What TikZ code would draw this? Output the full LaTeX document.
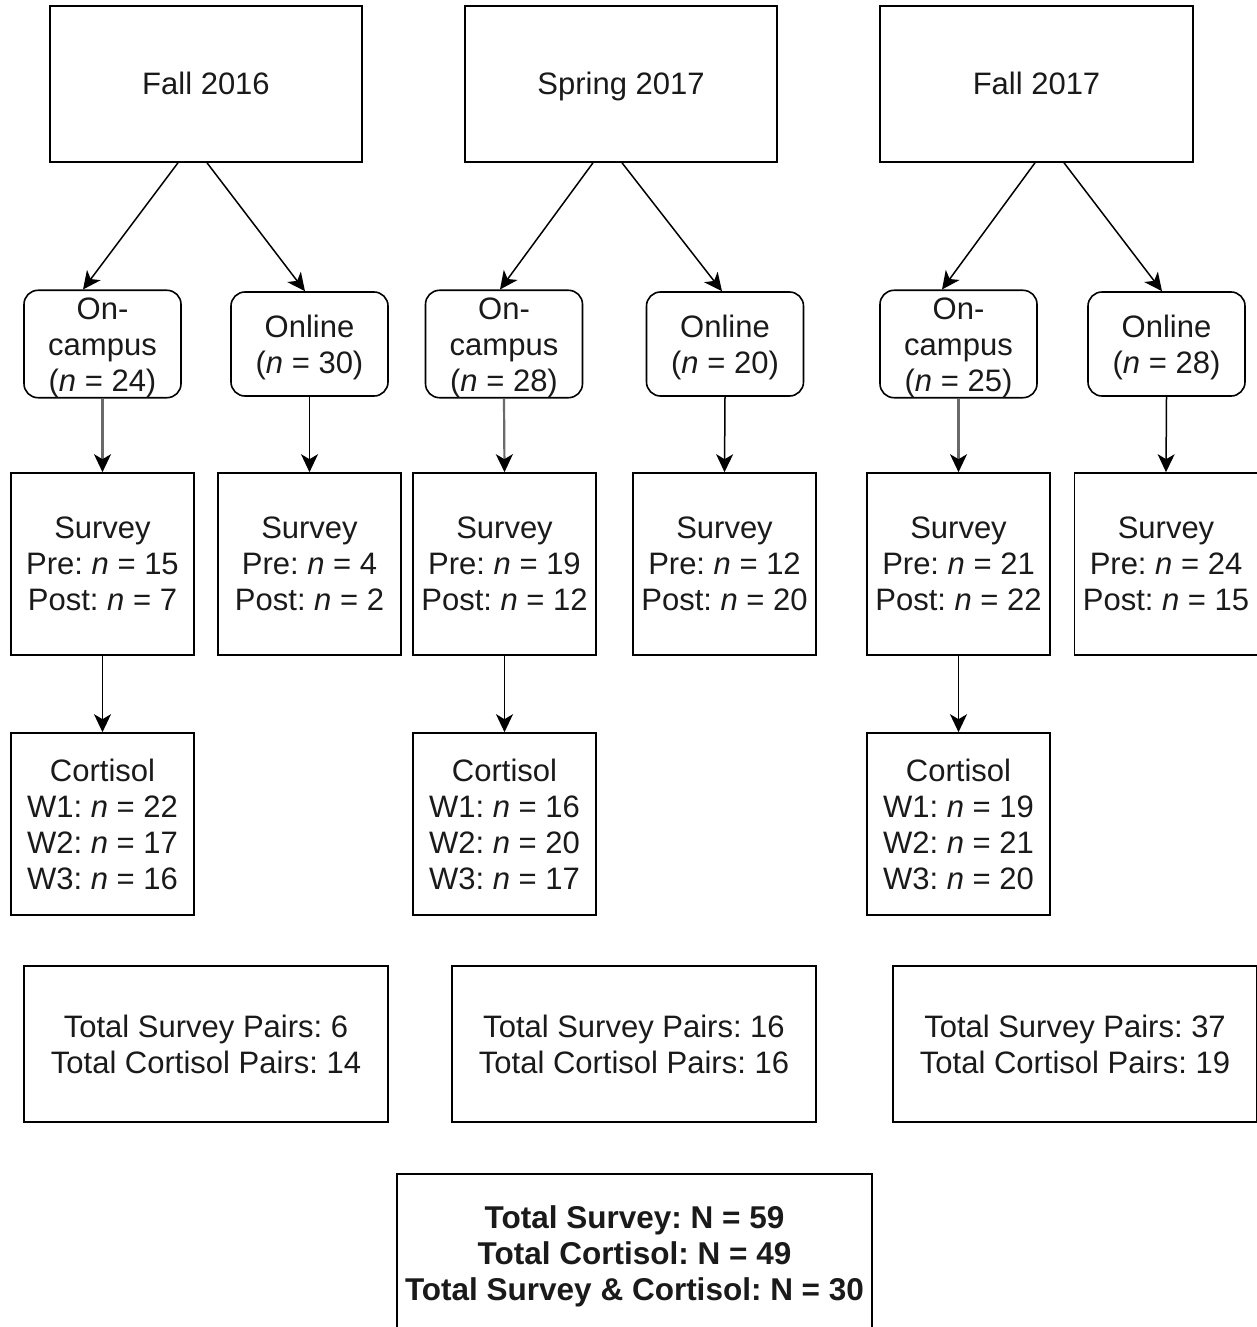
\documentclass[tikz,border=0pt]{standalone}
\usepackage{fontspec}
\setmainfont{Liberation Sans}
\frenchspacing
\usetikzlibrary{arrows.meta}
\newcommand\nval[1]{\textit{n} = #1}
\newcommand\topstrut[1]{\rule{0pt}{#1}}
\definecolor{txt}{HTML}{1A1A1A}
\definecolor{arrgray}{HTML}{6A6A6A}
\tikzset{
  base/.style={draw=black, line width=1.6pt, inner sep=0pt, align=center,
    text=txt, font=\fontsize{31}{36}\selectfont},
  topbox/.style={base, rectangle, minimum width=312pt, minimum height=156pt,
    text height=22pt, text depth=0pt},
  modebox/.style={base, rectangle, rounded corners=14pt, minimum width=157pt, minimum height=104pt},
  databox/.style={base, rectangle, minimum width=183pt, minimum height=182pt},
  totbox/.style={base, rectangle, minimum width=364pt, minimum height=156pt},
  conn/.style={line width=1.5pt, draw=black, -{Stealth[length=18pt,width=17pt,inset=5pt,color=black]}},
  gconn/.style={conn, draw=arrgray, line width=2.2pt}
}
\begin{document}
\begin{tikzpicture}[x=1pt,y=-1pt]
\useasboundingbox (0,0) rectangle (1257,1327);
\fill[white] (0,0) rectangle (1257,1327);

% top
\node[topbox] (fa16) at (206,84) {Fall 2016};
\node[topbox] (sp17) at (621,84) {Spring 2017};
\node[topbox, minimum width=313pt] (fa17) at (1036.5,84) {Fall 2017};

% modes
\node[modebox] (on1) at (102.5,344) {\topstrut{29pt}On-\\campus\\(\nval{24})};
\node[modebox] (ol1) at (309.5,344) {\topstrut{29pt}Online\\(\nval{30})};
\node[modebox] (on2) at (504,344) {\topstrut{29pt}On-\\campus\\(\nval{28})};
\node[modebox] (ol2) at (725,344) {\topstrut{29pt}Online\\(\nval{20})};
\node[modebox] (on3) at (958.5,344) {\topstrut{29pt}On-\\campus\\(\nval{25})};
\node[modebox] (ol3) at (1166.5,344) {\topstrut{29pt}Online\\(\nval{28})};

% survey
\node[databox] (sv1) at (102.5,564) {Survey\\Pre: \nval{15}\\Post: \nval{7}};
\node[databox] (svo1) at (309.5,564) {Survey\\Pre: \nval{4}\\Post: \nval{2}};
\node[databox] (sv2) at (504.5,564) {Survey\\Pre: \nval{19}\\Post: \nval{12}};
\node[databox] (svo2) at (724.5,564) {Survey\\Pre: \nval{12}\\Post: \nval{20}};
\node[databox] (sv3) at (958.5,564) {Survey\\Pre: \nval{21}\\Post: \nval{22}};
\node[databox] (svo3) at (1166,564) {Survey\\Pre: \nval{24}\\Post: \nval{15}};

% cortisol
\node[databox] (co1) at (102.5,824) {Cortisol\\W1: \nval{22}\\W2: \nval{17}\\W3: \nval{16}};
\node[databox] (co2) at (504.5,824) {Cortisol\\W1: \nval{16}\\W2: \nval{20}\\W3: \nval{17}};
\node[databox] (co3) at (958.5,824) {Cortisol\\W1: \nval{19}\\W2: \nval{21}\\W3: \nval{20}};

% totals
\node[totbox] (t1) at (206,1044) {Total Survey Pairs: 6\\Total Cortisol Pairs: 14};
\node[totbox] (t2) at (634,1044) {Total Survey Pairs: 16\\Total Cortisol Pairs: 16};
\node[totbox] (t3) at (1075,1044) {Total Survey Pairs: 37\\Total Cortisol Pairs: 19};

\node[base, rectangle, minimum width=475pt, minimum height=156pt,
  font=\fontsize{31.5}{36}\selectfont\bfseries] (all) at (634.5,1252)
  {\topstrut{31pt}Total Survey: N = 59\\Total Cortisol: N = 49\\Total Survey \& Cortisol: N = 30};

% connectors: top to modes
\draw[conn] ([xshift=-28pt]fa16.south) -- ([xshift=-19.5pt]on1.north);
\draw[conn] ([xshift=1pt]fa16.south) -- ([xshift=-4.5pt]ol1.north);
\draw[conn] ([xshift=-28pt]sp17.south) -- ([xshift=-4pt]on2.north);
\draw[conn] ([xshift=1pt]sp17.south) -- ([xshift=-3pt]ol2.north);
\draw[conn] ([xshift=-1.5pt]fa17.south) -- ([xshift=-16.5pt]on3.north);
\draw[conn] ([xshift=27.5pt]fa17.south) -- ([xshift=-4.5pt]ol3.north);

% modes to survey
\draw[gconn] (on1.south) -- (sv1.north);
\draw[conn] (ol1.south) -- (svo1.north);
\draw[gconn] (on2.south) -- (sv2.north);
\draw[conn] (ol2.south) -- (svo2.north);
\draw[gconn] (on3.south) -- (sv3.north);
\draw[conn] (ol3.south) -- (svo3.north);

% survey to cortisol
\draw[conn] (sv1.south) -- (co1.north);
\draw[conn] (sv2.south) -- (co2.north);
\draw[conn] (sv3.south) -- (co3.north);
\end{tikzpicture}
\end{document}
